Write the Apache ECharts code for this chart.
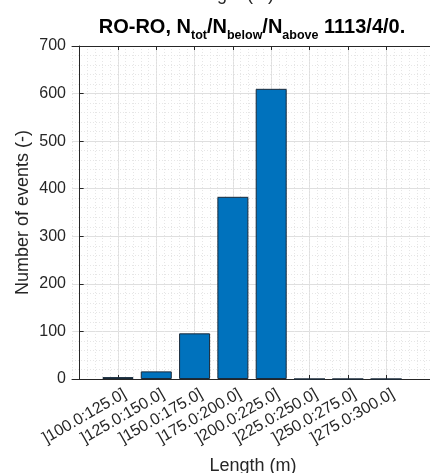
<!DOCTYPE html>
<html>
<head>
<meta charset="utf-8">
<script src="https://cdn.jsdelivr.net/npm/echarts@6/dist/echarts.min.js"></script>
<style>
html,body{margin:0;padding:0;background:#fff;}
#c{width:430px;height:473px;}
</style>
</head>
<body>
<div id="c"></div>
<script>
var categories = [']100.0:125.0]', ']125.0:150.0]', ']150.0:175.0]', ']175.0:200.0]', ']200.0:225.0]', ']225.0:250.0]', ']250.0:275.0]', ']275.0:300.0]'];
var counts = [4, 16, 96, 383, 610, 0, 0, 0];
var yTicks = [0, 100, 200, 300, 400, 500, 600, 700];
var titleParts = ['RO-RO, N', 'tot', '/N', 'below', '/N', 'above', ' 1113/4/0.'];
var xName = 'Length (m)';
var yName = 'Number of events (-)';

var positions = categories.map(function (c, i) { return i + 1; });
var barData = counts.map(function (v, i) { return [positions[i], v]; });

var font = 'Liberation Sans, Arial, Helvetica, sans-serif';
var axisColor = '#262626';
var xMin = -0.2, xMax = 9.25;

var chart = echarts.init(document.getElementById('c'), null, {renderer: 'canvas'});
chart.setOption({
  animation: false,
  backgroundColor: '#ffffff',
  textStyle: {fontFamily: font},
  title: {
    text: '{b|' + titleParts[0] + '}{s|' + titleParts[1] + '}{b|' + titleParts[2] + '}{s|' + titleParts[3] + '}{b|' + titleParts[4] + '}{s|' + titleParts[5] + '}{b|' + titleParts[6] + '}',
    left: 252,
    top: 22,
    textAlign: 'center',
    padding: 0,
    textStyle: {
      rich: {
        b: {fontFamily: font, fontSize: 20, fontWeight: 'bold', color: '#000', lineHeight: 20, verticalAlign: 'bottom', padding: [0, 0, 5, 0]},
        s: {fontFamily: font, fontSize: 12.5, fontWeight: 'bold', color: '#000', lineHeight: 12, verticalAlign: 'bottom', padding: [0, 0, 0, 0]}
      }
    }
  },
  graphic: [{
    type: 'text',
    left: 187,
    top: -14,
    style: {text: xName, fontFamily: font, fontSize: 18, fill: '#262626'}
  }],
  grid: {left: 72, top: 46, bottom: 94, right: -4, containLabel: false, outerBoundsMode: 'none'},
  xAxis: [{
    type: 'value',
    position: 'bottom',
    min: xMin, max: xMax,
    name: xName,
    nameLocation: 'middle',
    nameGap: 78,
    nameTextStyle: {fontFamily: font, fontSize: 18, color: axisColor},
    axisLine: {show: true, onZero: false, lineStyle: {color: axisColor, width: 1}},
    axisTick: {show: true, inside: true, length: 4, customValues: positions, lineStyle: {color: axisColor}},
    axisLabel: {
      show: true, customValues: positions, rotate: 30, fontFamily: font, fontSize: 16, color: axisColor, margin: 18,
      padding: [0, -8, 0, 0],
      formatter: function (v) { var i = Math.round(v) - 1; return categories[i] || ''; }
    },
    splitLine: {show: true, lineStyle: {color: '#dfdfdf', width: 1}}
  }, {
    type: 'value',
    position: 'top',
    min: xMin, max: xMax,
    axisLine: {show: true, onZero: false, lineStyle: {color: axisColor, width: 1}},
    axisTick: {show: true, inside: true, length: 4, customValues: positions, lineStyle: {color: axisColor}},
    axisLabel: {show: false, customValues: positions},
    splitLine: {show: false}
  }, {
    type: 'value',
    position: 'bottom',
    min: xMin, max: xMax, interval: 0.2,
    axisLine: {show: false},
    axisTick: {show: false},
    axisLabel: {show: false},
    splitLine: {show: true, lineStyle: {color: '#e6e6e6', width: 1, type: [1, 2]}}
  }],
  yAxis: [{
    type: 'value',
    min: yTicks[0], max: yTicks[yTicks.length - 1], interval: 100,
    name: yName,
    nameLocation: 'middle',
    nameGap: 40,
    nameMoveOverlap: false,
    nameTextStyle: {fontFamily: font, fontSize: 18, color: axisColor},
    axisLine: {show: true, lineStyle: {color: axisColor, width: 1}},
    axisTick: {show: true, inside: true, length: 4, lineStyle: {color: axisColor}},
    axisLabel: {fontFamily: font, fontSize: 16, color: axisColor, margin: 6},
    splitLine: {show: true, lineStyle: {color: '#dfdfdf', width: 1}},
    minorTick: {show: false, splitNumber: 5},
    minorSplitLine: {show: true, lineStyle: {color: '#e6e6e6', width: 1, type: [1, 2]}}
  }],
  series: [{
    type: 'bar',
    xAxisIndex: 0,
    yAxisIndex: 0,
    data: barData,
    barWidth: 31,
    itemStyle: {color: '#0072BD', borderColor: '#1a2a3a', borderWidth: 1},
    z: 5
  }]
});
</script>
</body>
</html>
